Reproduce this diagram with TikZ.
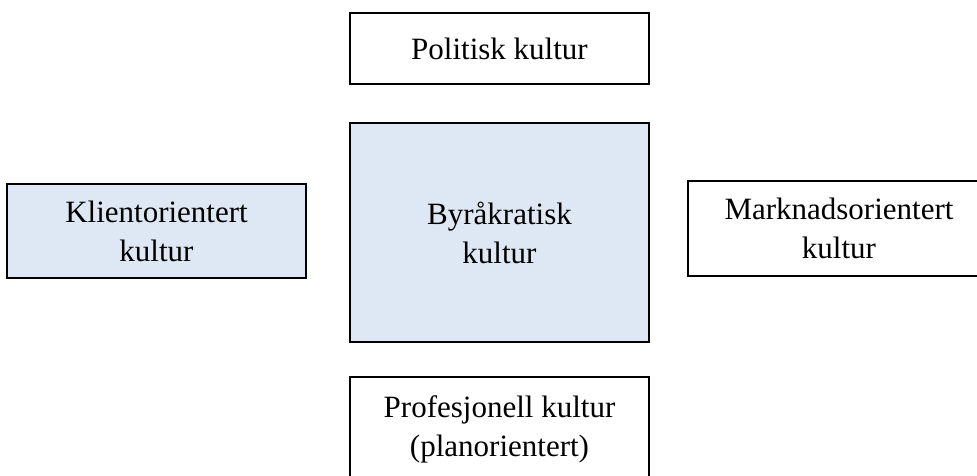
\documentclass[tikz,border=0pt]{standalone}
\usepackage{fontspec}
\setmainfont{Liberation Serif}
\definecolor{paleblue}{HTML}{DEE8F4}
\tikzset{
  culture/.style={draw=black, line width=2.6pt, rectangle, align=center,
    inner sep=0pt, minimum width=299pt,
    font=\fontsize{31}{39}\selectfont},
  shaded/.style={culture, fill=paleblue},
}
\begin{document}
\begin{tikzpicture}[x=1pt, y=-1pt]
  \useasboundingbox (0,0) rectangle (977,475);
  \clip (0,0) rectangle (977,475);
  % central column
  \node[culture, minimum height=71pt] (pol) at (499.5,48.5) {Politisk kultur};
  \node[shaded, minimum height=219pt] (byr) at (499.5,232.5) {Byråkratisk\\kultur};
  \node[culture, minimum height=104pt] (prof) at (499.5,429) {Profesjonell kultur\\(planorientert)};
  % side boxes
  \node[shaded, minimum height=94pt] (kli) at (156.5,231) {Klientorientert\\kultur};
  \node[culture, minimum width=302pt, minimum height=95pt] (mark) at (839,228.5) {Marknadsorientert\\kultur};
\end{tikzpicture}
\end{document}
